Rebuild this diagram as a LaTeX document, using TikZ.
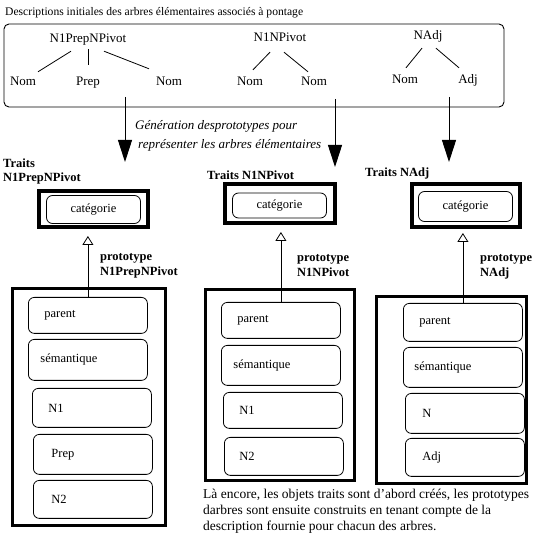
\documentclass[tikz,border=0pt]{standalone}
\usepackage{fontspec}
\setmainfont{Liberation Serif}
\usetikzlibrary{arrows.meta}

\begin{document}
\begin{tikzpicture}[x=1pt, y=-1pt,
  every node/.style={font=\fontsize{12.5}{14}\selectfont, inner sep=0pt},
  arbre/.style={text height=8pt, text depth=2pt, font=\fontsize{13}{14}\selectfont},
  etiq/.style={anchor=west, align=left, font=\fontsize{12.5}{15}\selectfont\bfseries},
  champ/.style={draw, line width=0.8pt, rounded corners=6pt, anchor=north west, align=left, text width=87pt, inner xsep=16pt, minimum width=119pt},
  cadre/.style={draw, line width=4pt},
  descente/.style={line width=1pt, -{Triangle[length=22pt,width=14pt]}},
  heritage/.style={line width=0.8pt, -{Triangle[open,length=9pt,width=11pt]}}]

\useasboundingbox (0,0) rectangle (550,537);

\node[anchor=west, font=\fontsize{11.6}{13}\selectfont] (titre) at (5,13) {Descriptions initiales des arbres élémentaires associés à pontage};
\node[draw, line width=0.9pt, rounded corners=5pt, minimum width=500pt, minimum height=83pt] (descr) at (254,65.5) {};

\node[arbre] (t1) at (88,40) {N1PrepNPivot};
\node[arbre] (t1g) at (23,83) {Nom};
\node[arbre] (t1m) at (88,83) {Prep};
\node[arbre] (t1d) at (169,83) {Nom};
\draw [line width=0.8pt] ([xshift=-17pt,yshift=-6pt]t1.south) -- ([xshift=15pt,yshift=6pt]t1g.north);
\draw [line width=0.8pt] ([yshift=-4pt]t1.south) -- ([yshift=13pt]t1m.north);
\draw [line width=0.8pt] ([xshift=16pt,yshift=-6pt]t1.south) -- ([xshift=-20pt,yshift=9pt]t1d.north);

\node[arbre] (t2) at (280,39) {N1NPivot};
\node[arbre] (t2g) at (250,83) {Nom};
\node[arbre] (t2d) at (314,83) {Nom};
\draw [line width=0.8pt] ([xshift=-10pt,yshift=-8pt]t2.south) -- ([xshift=3pt,yshift=8pt]t2g.north);
\draw [line width=0.8pt] ([xshift=4pt,yshift=-8pt]t2.south) -- ([xshift=-6pt,yshift=6pt]t2d.north);

\node[arbre] (t3) at (428,37) {NAdj};
\node[arbre] (t3g) at (405,81) {Nom};
\node[arbre] (t3d) at (468,81) {Adj};
\draw [line width=0.8pt] ([xshift=-6pt,yshift=-6pt]t3.south) -- ([xshift=1pt,yshift=8pt]t3g.north);
\draw [line width=0.8pt] ([xshift=8pt,yshift=-6pt]t3.south) -- ([xshift=-9pt,yshift=8pt]t3d.north);

\coordinate (s1) at (125,97);
\coordinate (s2) at (335,99);
\coordinate (s3) at (449,97);
\coordinate (f1) at (125,162);
\coordinate (f2) at (335,167);
\coordinate (f3) at (449,162);
\draw [descente] (s1) -- (f1);
\draw [descente] (s2) -- (f2);
\draw [descente] (s3) -- (f3);

\node[anchor=west, font=\fontsize{13}{14}\selectfont\itshape] (gen1) at (135,126) {Génération desprototypes pour};
\node[anchor=west, font=\fontsize{13}{14}\selectfont\itshape] (gen2) at (138,145) {représenter les arbres élémentaires};

\node[etiq, font=\fontsize{12.5}{14}\selectfont\bfseries] (lab1) at (3,171) {Traits\\N1PrepNPivot};
\node[etiq] (lab2) at (207,175) {Traits N1NPivot};
\node[etiq] (lab3) at (365,173) {Traits NAdj};

\node[cadre, minimum width=109pt, minimum height=36pt] (tr1) at (93.5,209) {};
\node[cadre, minimum width=110pt, minimum height=39pt] (tr2) at (280,203.5) {};
\node[cadre, minimum width=108pt, minimum height=43pt] (tr3) at (466,205.5) {};
\node[draw, line width=0.8pt, rounded corners=6pt, minimum width=94pt, minimum height=28pt] (cat1) at (93.5,209.5) {catégorie};
\node[draw, line width=0.8pt, rounded corners=6pt, minimum width=94pt, minimum height=25pt] (cat2) at (279.5,205.5) {catégorie};
\node[draw, line width=0.8pt, rounded corners=6pt, minimum width=94pt, minimum height=30pt] (cat3) at (465.5,206.5) {catégorie};

\node[etiq] (pro1) at (100,265.5) {prototype\\N1PrepNPivot};
\node[etiq] (pro2) at (297,265.5) {prototype\\N1NPivot};
\node[etiq] (pro3) at (480,267) {prototype\\NAdj};

\node[draw, line width=3pt, minimum width=153pt, minimum height=237pt] (proto1) at (89,407) {};
\node[champ, minimum height=36pt] (par1) at (28,297) {parent};
\node[champ, minimum height=41pt, inner xsep=12pt, text width=95pt] (sem1) at (28,339) {sémantique};
\node[champ, minimum height=39pt] (n11) at (32,388) {N1};
\node[champ, minimum height=40pt, inner xsep=18pt, text width=83pt] (prep1) at (33,434) {Prep};
\node[champ, minimum height=38pt, inner xsep=18pt, text width=83pt] (n21) at (33,480) {N2};

\node[draw, line width=3pt, minimum width=149pt, minimum height=191pt] (proto2) at (280,385) {};
\node[champ, minimum height=36pt] (par2) at (221,302) {parent};
\node[champ, minimum height=40pt, inner xsep=12pt, text width=95pt] (sem2) at (221,345) {sémantique};
\node[champ, minimum height=36pt] (n12) at (223,392) {N1};
\node[champ, minimum height=38pt, inner xsep=15pt, text width=89pt] (n22) at (224,437) {N2};

\node[draw, line width=3pt, minimum width=150pt, minimum height=187pt] (proto3) at (451.5,390) {};
\node[champ, minimum height=38pt] (par3) at (403,303) {parent};
\node[champ, minimum height=40pt, inner xsep=11pt, text width=97pt] (sem3) at (403,347) {sémantique};
\node[champ, minimum height=40pt, inner xsep=17pt, text width=85pt] (nn3) at (405,393) {N};
\node[champ, minimum height=38pt, inner xsep=17pt, text width=85pt] (adj3) at (405,438) {Adj};

\draw [heritage] (par1.north) -- ([yshift=-7pt]par1.north |- tr1.south);
\draw [heritage] (par2.north) -- ([yshift=-7pt]par2.north |- tr2.south);
\draw [heritage] (par3.north) -- ([yshift=-4pt]par3.north |- tr3.south);

\node[anchor=west, align=left, font=\fontsize{13.5}{16}\selectfont] (note) at (203,511) {Là encore, les objets traits sont d'abord créés, les prototypes\\darbres sont ensuite construits en tenant compte de la\\description fournie pour chacun des arbres.};

\end{tikzpicture}
\end{document}
